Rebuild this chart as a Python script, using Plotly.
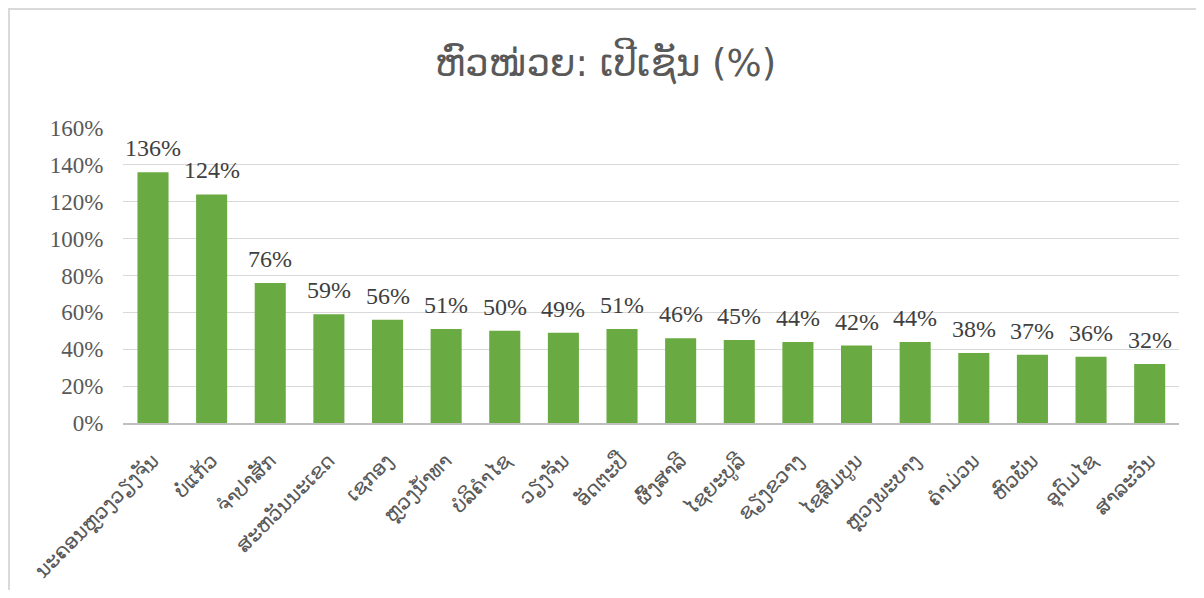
import plotly.graph_objects as go

provinces = ["ນະຄອນຫຼວງວຽງຈັນ", "ບໍ່ແກ້ວ", "ຈໍາປາສັກ", "ສະຫວັນນະເຂດ", "ເຊກອງ",
             "ຫຼວງນໍ້າທາ", "ບໍລິຄໍາໄຊ", "ວຽງຈັນ", "ອັດຕະປື", "ຜົ້ງສາລີ",
             "ໄຊຍະບູລີ", "ຊຽງຂວາງ", "ໄຊສົມບູນ", "ຫຼວງພະບາງ", "ຄໍາມ່ວນ",
             "ຫົວພັນ", "ອຸດົມໄຊ", "ສາລະວັນ"]
percent = [136, 124, 76, 59, 56, 51, 50, 49, 51, 46, 45, 44, 42, 44, 38, 37, 36, 32]
y_ticks = [0, 20, 40, 60, 80, 100, 120, 140, 160]
y_tick_text = [f"{v}%" for v in y_ticks]
title_text = "ຫົວໜ່ວຍ: ເປີເຊັນ (%)"

fig = go.Figure(go.Bar(
    x=provinces,
    y=percent,
    marker=dict(color="#6aaa42", line=dict(width=0)),
))

annotations = [
    dict(x=p, y=v, xref="x", yref="y", text=f"{v}%", showarrow=False,
         xanchor="center", yanchor="bottom", yshift=9,
         font=dict(family="Liberation Serif", size=24, color="#404040"))
    for p, v in zip(provinces, percent)
]

fig.update_layout(
    width=1188, height=582,
    margin=dict(l=115, r=17, t=120, b=167, autoexpand=False),
    paper_bgcolor="white", plot_bgcolor="white",
    bargap=0.47,
    showlegend=False,
    annotations=annotations,
    title=dict(text=title_text, x=0.503, xanchor="center", y=0.905, yanchor="middle",
               font=dict(family="DejaVu Sans", size=37, color="#595959")),
    shapes=[dict(type="rect", xref="paper", yref="paper",
                 x0=-0.108, x1=1.2, y0=-1.0, y1=1.403,
                 line=dict(color="#d9d9d9", width=2), fillcolor="rgba(0,0,0,0)", layer="below")],
)

fig.update_yaxes(
    range=[0, 160], tickvals=y_ticks, ticktext=y_tick_text,
    showgrid=True, gridcolor="#d9d9d9", gridwidth=1,
    zeroline=False, showline=False, automargin=False,
    ticks="outside", ticklen=14, tickcolor="rgba(0,0,0,0)",
    tickfont=dict(family="Liberation Serif", size=23, color="#595959"),
)
fig.update_xaxes(
    tickangle=-45, automargin=False,
    showline=True, linecolor="#bfbfbf", linewidth=2,
    ticks="outside", ticklen=16, tickcolor="rgba(0,0,0,0)", showgrid=False,
    tickfont=dict(family="DejaVu Sans", size=20, color="#595959"),
)

fig.write_html("out.html")
